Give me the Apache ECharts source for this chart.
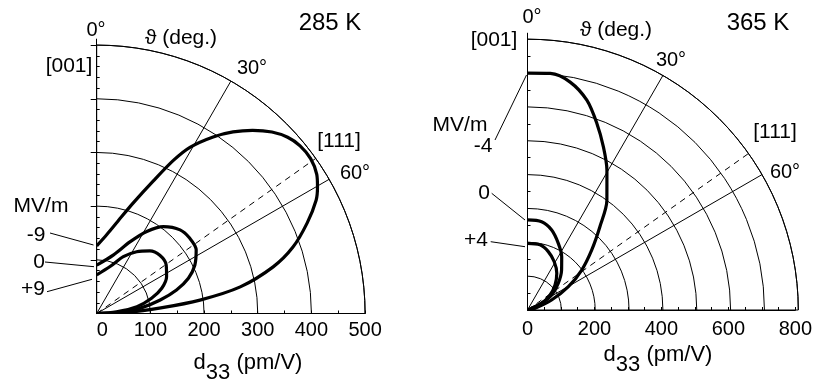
<!DOCTYPE html>
<html><head><meta charset="utf-8">
<script src="https://cdn.jsdelivr.net/npm/echarts@6/dist/echarts.min.js"></script>
<style>html,body{margin:0;padding:0;background:#fff}#c{width:815px;height:385px}</style>
</head><body><div id="c"></div>
<script>
// ---------- DATA (angle theta in degrees from [001], radius d33 in pm/V) ----------
// 285 K panel
const theta285_m9 = [0, 7.2, 13, 18.3, 23.1, 26.6, 29.3, 33.4, 36.9, 40.4, 44, 47.3, 50.5, 54.1, 57.7, 60.2, 62.7, 66.7, 71.3, 75.2, 79.5, 82.6, 85, 88, 90];
const d33_285_m9   = [126, 148, 177, 217, 268, 319, 355, 394, 423, 448, 470, 484, 491, 492, 485, 474, 460, 427, 386, 340, 272, 194, 120, 55, 0];
const theta285_0 = [0, 15.8, 24.9, 31.4, 37.5, 44.9, 51.1, 57.4, 63.7, 69, 73.6, 78, 83.2, 87, 90];
const d33_285_0   = [90, 113, 147, 179, 204, 220, 223, 220, 204, 183, 155, 121, 81, 43, 0];
const theta285_p9 = [0, 15.9, 25.1, 32.9, 40.3, 47.3, 55, 62.3, 68.8, 74.5, 80.4, 84.9, 90];
const d33_285_p9   = [72, 91, 117, 137, 153, 160, 158, 147, 130, 106, 76, 37, 0];
// 365 K panel
const theta365_m4 = [0, 5.5, 10.6, 15.8, 20.4, 25, 29.6, 35.9, 41, 46.9, 53.6, 60.3, 67.5, 77, 80];
const d33_365_m4   = [700, 702, 685, 644, 588, 531, 475, 400, 326, 260, 199, 139, 77, 23, 0];
const theta365_0 = [0, 9.1, 16.8, 24.8, 32.7, 40.5, 49.1, 58.2, 64.7, 68, 70];
const d33_365_0   = [266, 264, 247, 217, 187, 155, 120, 84, 46, 13, 0];
const theta365_p4 = [0, 10.9, 19.6, 29, 38.5, 47.7, 56.3, 64.7, 70];
const d33_365_p4   = [197, 196, 183, 163, 139, 110, 80, 46, 0];
// axes / labels
const dir111 = 54.7;
const angleTickLabels = ['0°', '30°', '60°'];
const rMax285 = 500, rMax365 = 800;
const xLabelStep285 = 100, xLabelStep365 = 200;
const yMinor285 = [20,40,60,80,120,140,160,180,220,240,260,280,320,340,360,380,420,440,460,480];
const yMajor285 = [100,200,300,400,500];
const yMinor365 = [50,150,250,350,450,550,650,750];
const fieldLabels285 = ['-9', '0', '+9'];
const fieldLabels365 = ['-4', '0', '+4'];

// ---------- LAYOUT ----------
const FF = '"Liberation Sans", Arial, "DejaVu Sans", sans-serif';
const P1 = {cx: 96.7, cy: 313.5, R: 268.4};
const P2 = {cx: 527.5, cy: 310, R: 270.8};
const EXT = 6; // y axis sticks out above the outer arc
// label anchor positions (centres) for the angle tick labels
const angLabPos1 = [[96, 30], [252, 68], [355, 173]];
const angLabPos2 = [[532, 17], [671, 60], [785, 172]];

const pairs = (t, r) => t.map((a, i) => [r[i], a]);

const chart = echarts.init(document.getElementById('c'), null, {renderer: 'canvas'});

function angleAxisFor(i) {
  return {
    polarIndex: i, type: 'value', startAngle: 90, endAngle: 0, clockwise: true,
    min: 0, max: 90, interval: 30,
    axisLine: {show: true, lineStyle: {color: '#000', width: 1}},
    axisTick: {show: false},
    axisLabel: {show: false},
    splitLine: {show: true, lineStyle: {color: '#000', width: 1}}
  };
}
function radiusAxisFor(i, max) {
  return {
    polarIndex: i, type: 'value', min: 0, max: max, interval: 100,
    axisLine: {show: false}, axisTick: {show: false}, axisLabel: {show: false},
    splitLine: {show: true, lineStyle: {color: '#000', width: 1}}
  };
}
function curve(pi, t, r) {
  return {type: 'line', coordinateSystem: 'polar', polarIndex: pi, data: pairs(t, r),
    showSymbol: false, smooth: 0.3, silent: true, z: 5,
    lineStyle: {color: '#000', width: 3.2}};
}
function dashed(pi, rmax) {
  return {type: 'line', coordinateSystem: 'polar', polarIndex: pi, data: [[0, dir111], [rmax, dir111]],
    showSymbol: false, silent: true, z: 4, lineStyle: {color: '#000', width: 1, type: [6, 5]}};
}
const txt = (x, y, s, size, align) => ({type: 'text', silent: true, z: 20,
  style: {x: x, y: y, text: s, fill: '#000', font: (size || 21) + 'px ' + FF, align: align || 'center', verticalAlign: 'middle'}});
const seg = (x1, y1, x2, y2) => ({type: 'line', silent: true, z: 20,
  shape: {x1: x1, y1: y1, x2: x2, y2: y2}, style: {stroke: '#000', lineWidth: 1}});
const d33Title = (x, y) => ({type: 'text', silent: true, z: 20,
  style: {x: x, y: y, text: '{a|d}{b|33}{a| (pm/V)}', align: 'center', verticalAlign: 'middle',
    rich: {a: {font: '22px ' + FF, fill: '#000', lineHeight: 22, verticalAlign: 'top'},
           b: {font: '22px ' + FF, fill: '#000', lineHeight: 32, verticalAlign: 'bottom'}}}});

const xAxisStyle = (gi, max, step, margin, alignMin) => ({
  gridIndex: gi, type: 'value', min: 0, max: max, interval: step,
  axisLine: {show: true, onZero: false, lineStyle: {color: '#000', width: 1}},
  axisTick: {show: true, inside: true, length: 3, lineStyle: {color: '#000'}},
  minorTick: {show: true, splitNumber: step / 50, length: 3, lineStyle: {color: '#000'}},
  axisLabel: {color: '#000', fontFamily: FF, fontSize: 20, margin: margin, alignMinLabel: alignMin},
  splitLine: {show: false}
});

const yMax1 = rMax285 * (P1.R + EXT) / P1.R;
const yMax2 = rMax365 * (P2.R + EXT) / P2.R;

const angleLabelGraphics = [];
angleTickLabels.forEach((s, i) => {
  angleLabelGraphics.push(txt(angLabPos1[i][0], angLabPos1[i][1], s, 20));
  angleLabelGraphics.push(txt(angLabPos2[i][0], angLabPos2[i][1], s, 20));
});

const option = {
  animation: false,
  backgroundColor: '#fff',
  polar: [
    {center: [P1.cx, P1.cy], radius: P1.R},
    {center: [P2.cx, P2.cy], radius: P2.R}
  ],
  angleAxis: [angleAxisFor(0), angleAxisFor(1)],
  radiusAxis: [radiusAxisFor(0, rMax285), radiusAxisFor(1, rMax365)],
  grid: [
    {left: P1.cx, top: P1.cy - P1.R - EXT, width: P1.R, height: P1.R + EXT, containLabel: false},
    {left: P2.cx, top: P2.cy - P2.R - EXT, width: P2.R, height: P2.R + EXT, containLabel: false}
  ],
  xAxis: [
    xAxisStyle(0, rMax285, xLabelStep285, 7, 'left'),
    xAxisStyle(1, rMax365, xLabelStep365, 9, 'center')
  ],
  yAxis: [
    {gridIndex: 0, type: 'value', min: 0, max: yMax1, position: 'left',
     axisLine: {show: true, onZero: false, lineStyle: {color: '#000', width: 1}},
     axisTick: {show: true, inside: false, length: 6, customValues: yMajor285, lineStyle: {color: '#000'}},
     axisLabel: {show: false}, splitLine: {show: false}},
    {gridIndex: 0, type: 'value', min: 0, max: yMax1, position: 'left', offset: 0,
     axisLine: {show: false},
     axisTick: {show: true, inside: true, length: 3, customValues: yMinor285, lineStyle: {color: '#000'}},
     axisLabel: {show: false}, splitLine: {show: false}},
    {gridIndex: 1, type: 'value', min: 0, max: yMax2, position: 'left',
     axisLine: {show: true, onZero: false, lineStyle: {color: '#000', width: 1}},
     axisTick: {show: true, inside: true, length: 3, customValues: yMinor365, lineStyle: {color: '#000'}},
     axisLabel: {show: false}, splitLine: {show: false}}
  ],
  series: [
    dashed(0, rMax285),
    curve(0, theta285_m9, d33_285_m9),
    curve(0, theta285_0, d33_285_0),
    curve(0, theta285_p9, d33_285_p9),
    dashed(1, rMax365),
    curve(1, theta365_m4, d33_365_m4),
    curve(1, theta365_0, d33_365_0),
    curve(1, theta365_p4, d33_365_p4)
  ],
  graphic: angleLabelGraphics.concat([
    // left panel annotations
    txt(330, 23, '285 K', 24),
    txt(181, 38, 'ϑ (deg.)', 21),
    txt(69, 66, '[001]', 21),
    txt(339, 141, '[111]', 21),
    txt(41, 206, 'MV/m', 21),
    txt(36, 235, fieldLabels285[0], 21),
    txt(39, 262, fieldLabels285[1], 21),
    txt(33, 289, fieldLabels285[2], 21),
    seg(50, 233, 93.5, 245),
    seg(45, 262, 94, 266.7),
    seg(47, 291.7, 92, 279.3),
    d33Title(248, 368),
    // right panel annotations
    txt(758, 23, '365 K', 24),
    txt(616, 30, 'ϑ (deg.)', 21),
    txt(494, 40, '[001]', 21),
    txt(775, 132, '[111]', 21),
    txt(460, 125, 'MV/m', 21),
    txt(483, 146, fieldLabels365[0], 21),
    txt(484, 193, fieldLabels365[1], 21),
    txt(476, 240, fieldLabels365[2], 21),
    seg(495, 140, 526.5, 75),
    seg(491.7, 193.3, 525, 220),
    seg(490.7, 241.7, 525, 246.7),
    d33Title(658, 360)
  ])
};
chart.setOption(option);
</script>
</body></html>
